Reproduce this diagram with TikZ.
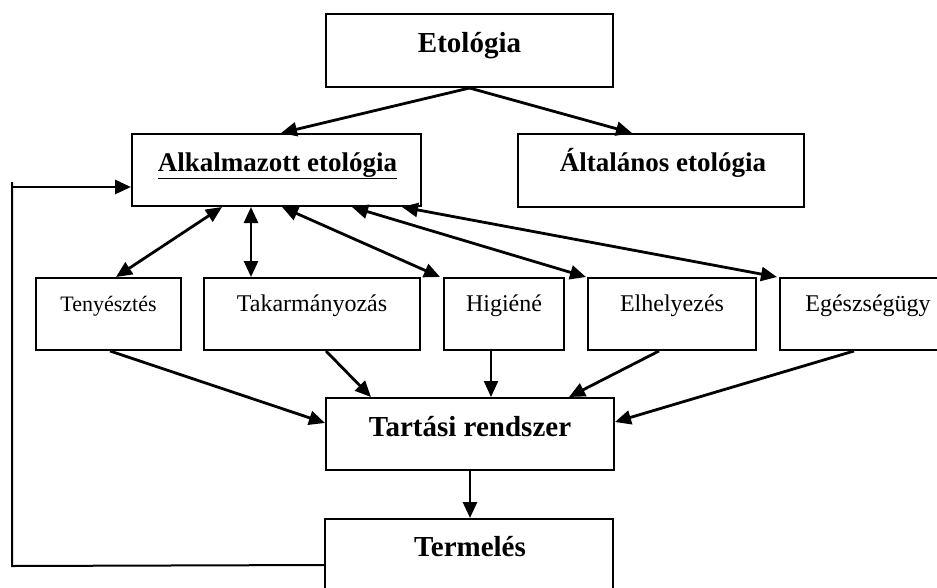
\documentclass[tikz,border=0pt]{standalone}
\usepackage{fontspec}
\setmainfont{Liberation Serif}
\usetikzlibrary{arrows.meta,calc}
\begin{document}
\begin{tikzpicture}[x=1pt,y=-1pt,
  box/.style={draw,line width=2pt,inner sep=0pt,minimum height=72pt},
  arr/.style={line width=2.8pt,-{Triangle[length=16pt,width=14pt]}},
  darr/.style={line width=2.8pt,{Triangle[length=16pt,width=14pt]}-{Triangle[length=16pt,width=14pt]}},
  big/.style={font=\fontsize{29}{34}\selectfont\bfseries,anchor=base,inner sep=0pt},
  mid/.style={font=\fontsize{27}{32}\selectfont\bfseries,anchor=base,inner sep=0pt},
  small/.style={font=\fontsize{24}{28}\selectfont,anchor=base,inner sep=0pt}]
\useasboundingbox (0,0) rectangle (937,587);
\clip (0,0) rectangle (937,587);
% boxes
\node[box,minimum width=287pt,minimum height=73pt] (eto) at (469.5,50.5) {};
\node[box,minimum width=289pt] (alk) at (276.5,170) {};
\node[box,minimum width=286pt,minimum height=73pt] (alt) at (661,170.5) {};
\node[box,minimum width=145pt] (teny) at (108.5,314) {};
\node[box,minimum width=216pt] (tak) at (312,314) {};
\node[box,minimum width=120pt] (hig) at (504,314) {};
\node[box,minimum width=168pt] (elh) at (672,314) {};
\node[box,minimum width=176pt] (egs) at (868,314) {};
\node[box,minimum width=288pt] (tart) at (470,434) {};
\node[box,minimum width=288pt,minimum height=84pt] (term) at (469,561) {};
% texts
\node[big] (etoT) at ($(eto.north)+(0,39)$) {Etológia};
\node[mid] (alkT) at ($(alk.north)+(1,38)$) {\underline{Alkalmazott etológia}};
\node[mid] (altT) at ($(alt.north)+(2,38)$) {Általános etológia};
\node[small,font=\fontsize{22}{26}\selectfont] (tenyT) at ($(teny.north)+(0,34)$) {Tenyésztés};
\node[small] (takT) at ($(tak.north)+(0,34)$) {Takarmányozás};
\node[small] (higT) at ($(hig.north)+(0,34)$) {Higiéné};
\node[small] (elhT) at ($(elh.north)+(0,34)$) {Elhelyezés};
\node[small] (egsT) at ($(egs.north)+(0,34)$) {Egészségügy};
\node[big] (tartT) at ($(tart.north)+(0,39)$) {Tartási rendszer};
\node[big] (termT) at ($(term.north)+(1,38)$) {Termelés};
% top arrows
\draw[arr] (eto.south) -- ($(alk.north west)+(150,0)$);
\draw[arr] (eto.south) -- ($(alt.north west)+(115,0)$);
% double arrows
\draw[darr] ($(alk.south west)+(91,0)$) -- ($(teny.north west)+(81,0)$);
\draw[darr] ($(alk.south west)+(120,0)$) -- ($(tak.north west)+(48,0)$);
\draw[darr] ($(alk.south west)+(151,0)$) -- ($(hig.north west)+(-3,0)$);
\draw[darr] ($(alk.south west)+(221,0)$) -- ($(elh.north west)+(-1,0)$);
\draw[darr] ($(alk.south west)+(271,0)$) -- ($(egs.north west)+(-2,0)$);
% into Tartasi rendszer
\draw[arr] ($(teny.south west)+(75,0)$) -- ($(tart.west)+(0,-11)$);
\draw[arr] ($(tak.south west)+(123,0)$) -- ($(tart.north west)+(46,0)$);
\draw[arr,line width=2.2pt] ($(hig.south west)+(48,0)$) -- ($(tart.north west)+(166,0)$);
\draw[arr] ($(elh.south west)+(72,0)$) -- ($(tart.north west)+(244,0)$);
\draw[arr] ($(egs.south west)+(75,0)$) -- ($(tart.east)+(0,-12)$);
\draw[arr] (tart.south) -- (tart.south |- term.north);
% feedback
\coordinate (fbS) at ($(term.north west)+(0,47)$);
\coordinate (fbC) at (12,566);
\coordinate (fbT) at (12,182);
\coordinate (fbH) at (12,187);
\draw[line width=2pt] (fbS) -- (fbC) -- (fbT);
\draw[arr] (fbH) -- (fbH -| alk.west);
\end{tikzpicture}
\end{document}
